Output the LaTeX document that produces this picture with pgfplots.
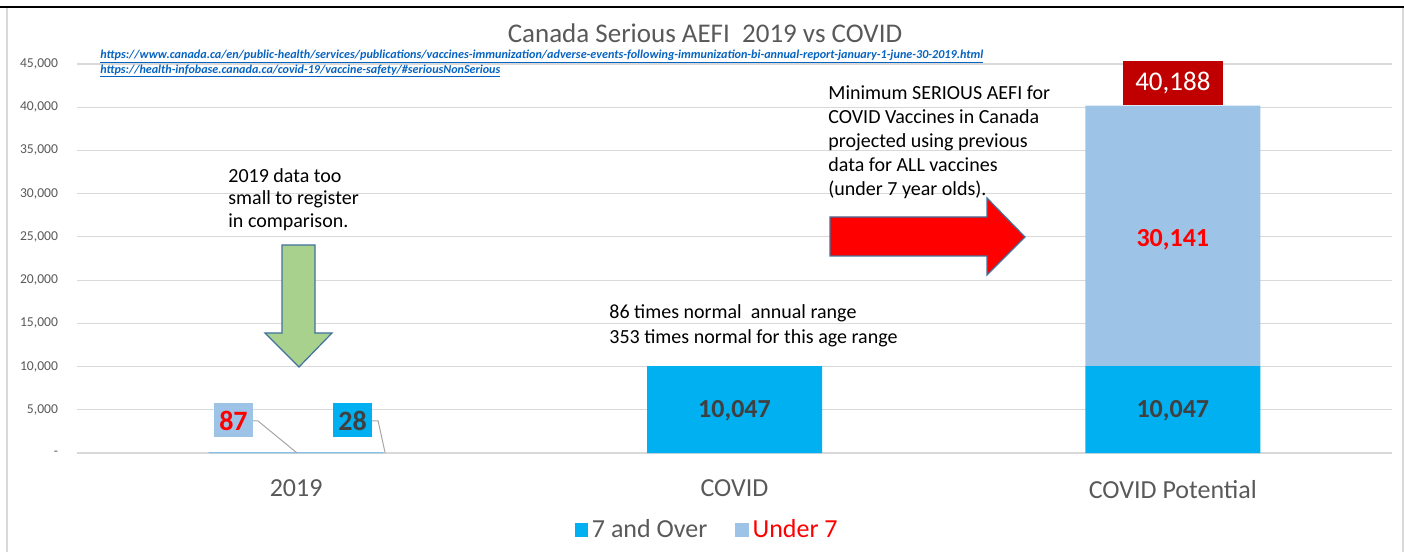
\documentclass[border=0pt]{standalone}
\usepackage{fontspec}
\setmainfont{Carlito}
\usepackage{pgfplots}
\pgfplotsset{compat=1.18}
\definecolor{cOver}{HTML}{00B0F0}
\definecolor{cUnder}{HTML}{9DC3E6}
\definecolor{cDark}{HTML}{C00000}
\definecolor{tgray}{HTML}{595959}
\definecolor{lgray}{HTML}{404040}
\definecolor{gridc}{HTML}{D9D9D9}
\definecolor{linkc}{HTML}{0563C1}
\definecolor{greenA}{HTML}{A9D18E}
\definecolor{outl}{HTML}{41719C}
\begin{document}
\begin{tikzpicture}
\path[use as bounding box] (0,0) rectangle (702pt,276pt);
\begin{axis}[
  at={(38.5pt,49.5pt)}, anchor=south west,
  scale only axis, width=657.5pt, height=194.5pt,
  ybar stacked, bar width=87.5pt,
  xmin=-0.5, xmax=2.5, ymin=0, ymax=45000,
  clip=false,
  scaled y ticks=false,
  axis line style={draw=none},
  major tick length=0pt,
  ymajorgrids, grid style={gridc, line width=0.6pt},
  xtick={0,1,2}, xticklabels={2019,COVID,COVID Potential},
  xticklabel style={font=\fontsize{13}{15}\selectfont, text=tgray, yshift=-10pt},
  ytick={0,5000,...,45000},
  yticklabels={{-},{5,000},{10,000},{15,000},{20,000},{25,000},{30,000},{35,000},{40,000},{45,000}},
  yticklabel style={font=\fontsize{6.8}{8}\selectfont, text=tgray, xshift=-6pt},
  legend style={at={(axis description cs:0.48,-0.198)}, anchor=center, draw=none, fill=none,
    legend columns=2, font=\fontsize{13}{15}\selectfont\color{tgray},
    /tikz/every even column/.append style={column sep=12pt}},
  legend image code/.code={\fill[#1] (0pt,-3.3pt) rectangle (6.6pt,3.3pt);},
]
\addplot[fill=cOver, draw=none] coordinates {(0,28) (1,10047) (2,10047)};
\addplot[fill=cUnder, draw=none] coordinates {(0,87) (1,0) (2,30141)};
\legend{7 and Over, \textcolor{red}{Under 7}}
\coordinate (L1) at (axis cs:1,4850);
\coordinate (L2) at (axis cs:2,4850);
\coordinate (L3) at (axis cs:2,24700);
\coordinate (L4) at (axis cs:2,42744);
\coordinate (A1) at (axis cs:-0.0985,3702);
\coordinate (A2) at (axis cs:-0.087,3702);
\coordinate (A3) at (axis cs:0.002,0);
\coordinate (B1) at (axis cs:0.173,3702);
\coordinate (B2) at (axis cs:0.187,3702);
\coordinate (B3) at (axis cs:0.203,0);
\coordinate (N87) at (axis cs:-0.143,3760);
\coordinate (N28) at (axis cs:0.1286,3760);
\end{axis}
% data labels
\node[font=\fontsize{13}{15}\selectfont\bfseries, text=lgray] at (L1) {10,047};
\node[font=\fontsize{13}{15}\selectfont\bfseries, text=lgray] at (L2) {10,047};
\node[font=\fontsize{13}{15}\selectfont\bfseries, text=red] at (L3) {30,141};
\node[fill=cDark, text=white, minimum width=50pt, minimum height=22pt, inner sep=0pt,
  font=\fontsize{13.5}{16}\selectfont] at (L4) {40,188};
\draw[gray!70, line width=0.5pt] (A1) -- (A2) -- (A3);
\draw[gray!70, line width=0.5pt] (B1) -- (B2) -- (B3);
\node[fill=cUnder, text=red, minimum width=19.5pt, minimum height=17pt, inner sep=0pt,
  font=\fontsize{14}{16}\selectfont\bfseries] at (N87) {87};
\node[fill=cOver, text=lgray, minimum width=19.5pt, minimum height=17pt, inner sep=0pt,
  font=\fontsize{14}{16}\selectfont\bfseries] at (N28) {28};
\begin{scope}[x=0.5pt,y=-0.5pt,shift={(0pt,276pt)}]
  % frame
  \draw[black, line width=1pt] (0,7) -- (1404,7);
  \draw[gridc, line width=0.8pt] (7,8) -- (7,552);
  \draw[gridc, line width=0.8pt] (1403,8) -- (1403,552);
  % title
  \node[font=\fontsize{13.5}{16}\selectfont, text=tgray] at (705,33) {Canada Serious AEFI\ \ 2019 vs COVID};
  % links
  \node[anchor=west, inner sep=0pt, text=linkc] at (100,56) {\resizebox{441.5pt}{!}{\bfseries\itshape\underline{https://www.canada.ca/en/public-health/services/publications/vaccines-immunization/adverse-events-following-immunization-bi-annual-report-january-1-june-30-2019.html}}};
  \node[anchor=west, inner sep=0pt, text=linkc] at (100,71) {\resizebox{200pt}{!}{\bfseries\itshape\underline{https://health-infobase.canada.ca/covid-19/vaccine-safety/\#seriousNonSerious}}};
  % annotations
  \node[anchor=north west, inner sep=0pt, align=left, font=\fontsize{10}{11.3}\selectfont] at (228,168) {2019 data too\\small to register\\in comparison.};
  \node[anchor=north west, inner sep=0pt, align=left, font=\fontsize{10}{12}\selectfont] at (828,85) {Minimum SERIOUS AEFI for\\COVID Vaccines in Canada\\projected using previous\\data for ALL vaccines\\(under 7 year olds).};
  \node[anchor=north west, inner sep=0pt, align=left, font=\fontsize{10}{12.5}\selectfont] at (609,304) {86 times normal\ \ annual range\\353 times normal for this age range};
  % arrows
  \filldraw[fill=greenA, draw=outl, line width=0.6pt] (282,245) -- (315,245) -- (315,333) -- (332,333) -- (299,367) -- (265,333) -- (282,333) -- cycle;
  \filldraw[fill=red, draw=outl, line width=0.6pt] (830,217) -- (987,217) -- (987,198) -- (1025,237) -- (987,275) -- (987,256) -- (830,256) -- cycle;
\end{scope}
\end{tikzpicture}
\end{document}
